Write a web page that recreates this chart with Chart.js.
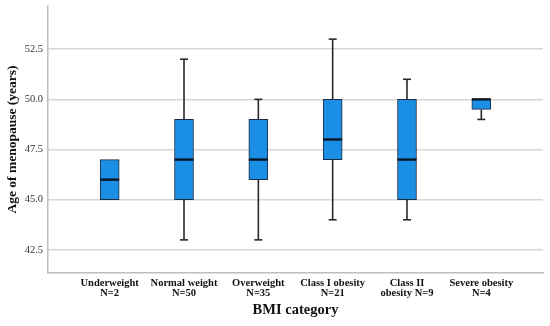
<!DOCTYPE html>
<html>
<head>
<meta charset="utf-8">
<script src="https://cdn.jsdelivr.net/npm/chart.js@4/dist/chart.umd.min.js"></script>
<style>
  html, body { margin: 0; padding: 0; background: #fff; }
  #wrap { width: 550px; height: 326px; }
</style>
</head>
<body>
<div id="wrap"><canvas id="myChart" width="550" height="326"></canvas></div>
<script>
// BMI category box plot data
const categories = ["Underweight", "Normal weight", "Overweight", "Class I obesity", "Class II obesity", "Severe obesity"];
const tickLabels = [
  ["Underweight", "N=2"],
  ["Normal weight", "N=50"],
  ["Overweight", "N=35"],
  ["Class I obesity", "N=21"],
  ["Class II", "obesity N=9"],
  ["Severe obesity", "N=4"],
];
const mins = [45, 43, 43, 44, 44, 49];
const q1s = [45, 45, 46, 47, 45, 49.5];
const medians = [46, 47, 47, 48, 47, 50];
const q3s = [47, 49, 49, 50, 50, 50];
const maxs = [47, 52, 50, 53, 51, 50];
const yTicks = [42.5, 45.0, 47.5, 50.0, 52.5];

const fontFam = "'Liberation Serif', 'Times New Roman', serif";

let boxes = [];
let whiskers = [];
let caps = [];
let mids = [];
categories.forEach((c, i) => {
  boxes.push({ x: i, y: [q1s[i], q3s[i]] });
  mids.push({ x: i, y: medians[i] });
  if (maxs[i] > q3s[i]) {
    whiskers.push({ x: i, y: q3s[i] }, { x: i, y: maxs[i] }, { x: i, y: NaN });
    caps.push({ x: i, y: maxs[i] });
  }
  if (mins[i] < q1s[i]) {
    whiskers.push({ x: i, y: q1s[i] }, { x: i, y: mins[i] }, { x: i, y: NaN });
    caps.push({ x: i, y: mins[i] });
  }
});

const myChart = new Chart(document.getElementById("myChart"), {
  data: {
    datasets: [
      {
        type: "bar",
        data: boxes,
        backgroundColor: "#1a8fe3",
        borderColor: "#1c2c44",
        borderWidth: 1,
        borderSkipped: false,
        barThickness: 19,
        order: 2,
      },
      {
        type: "line",
        data: whiskers,
        borderColor: "#2a2a2a",
        borderWidth: 1.6,
        pointRadius: 0,
        spanGaps: false,
        order: 3,
      },
      {
        type: "scatter",
        data: caps,
        pointStyle: "line",
        pointRadius: 4,
        borderColor: "#2a2a2a",
        borderWidth: 1.6,
        order: 1,
      },
      {
        type: "scatter",
        data: mids,
        pointStyle: "line",
        pointRadius: 9.5,
        borderColor: "#0b1626",
        borderWidth: 2.4,
        order: 0,
      },
    ],
  },
  options: {
    responsive: false,
    animation: false,
    layout: { autoPadding: false, padding: { top: 6, right: 7, left: 0, bottom: 0 } },
    plugins: { legend: { display: false }, tooltip: { enabled: false } },
    scales: {
      x: {
        type: "linear",
        offset: false,
        min: -0.83,
        max: 5.83,
        afterBuildTicks: (scale) => {
          scale.ticks = categories.map((c, i) => ({ value: i }));
        },
        afterFit: (scale) => {
          scale.height = 53;
          scale.paddingLeft = 0;
          scale.paddingRight = 0;
        },
        grid: { display: false, drawTicks: false },
        border: { display: true, color: "#bdbdbd", width: 1.5 },
        ticks: {
          callback: (v) => tickLabels[v],
          maxRotation: 0,
          autoSkip: false,
          padding: 5,
          color: "#111",
          font: { family: fontFam, size: 10.5, weight: "bold", lineHeight: 1.0 },
        },
        title: {
          display: true,
          text: "BMI category",
          color: "#111",
          font: { family: fontFam, size: 14.5, weight: "bold" },
          padding: { top: 2, bottom: 7 },
        },
      },
      y: {
        type: "linear",
        min: 41.35,
        max: 54.65,
        afterBuildTicks: (scale) => {
          scale.ticks = yTicks.map((v) => ({ value: v }));
        },
        afterFit: (scale) => {
          scale.width = 48;
          scale.paddingTop = 0;
          scale.paddingBottom = 0;
        },
        grid: { color: "#d6d6d6", lineWidth: 1.5, drawTicks: false },
        border: { display: true, color: "#bdbdbd", width: 1.5 },
        ticks: {
          callback: (v) => v.toFixed(1),
          padding: 5,
          color: "#333",
          font: { family: fontFam, size: 10.5 },
        },
        title: {
          display: true,
          text: "Age of menopause (years)",
          color: "#111",
          font: { family: fontFam, size: 13.5, weight: "bold" },
          padding: { top: 4, bottom: 0 },
        },
      },
    },
  },
});
</script>
</body>
</html>
